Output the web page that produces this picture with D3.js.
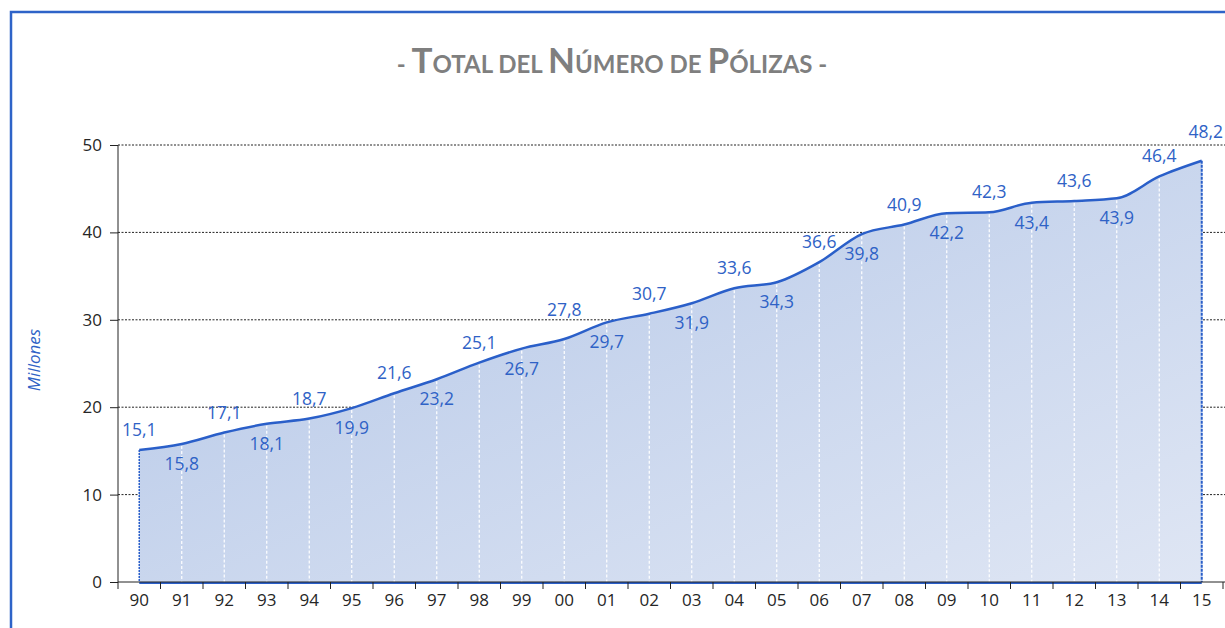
<!DOCTYPE html>
<html>
<head>
<meta charset="utf-8">
<script src="https://cdn.jsdelivr.net/npm/d3@7"></script>
<style>
  body { margin: 0; background: #fff; }
  svg { display: block; font-family: "Open Sans", "Noto Sans", sans-serif; }
</style>
</head>
<body>
<svg id="chart" width="1225" height="628"></svg>
<script>
const years = ['90','91','92','93','94','95','96','97','98','99','00','01','02','03','04','05','06','07','08','09','10','11','12','13','14','15']
const polizas = [15.1,15.8,17.1,18.1,18.7,19.9,21.6,23.2,25.1,26.7,27.8,29.7,30.7,31.9,33.6,34.3,36.6,39.8,40.9,42.2,42.3,43.4,43.6,43.9,46.4,48.2]
// label above (1) or below (-1) the point
const labelSide = [1,-1,1,-1,1,-1,1,-1,1,-1,1,-1,1,-1,1,-1,1,-1,1,-1,1,-1,1,-1,1,1]
// labels pushed a little higher to clear the gridline / edge
const raisedLabels = ['00', '15']
const yTicks = [0,10,20,30,40,50]

const blue = '#2a5fc9'
const svg = d3.select('#chart')
const width = 1225, height = 628
const margin = { left: 118, right: 2, top: 145, bottom: 46 }

// frame
svg.append('path')
  .attr('d', `M11,${height + 5} V12 H${width + 5}`)
  .attr('fill', 'none')
  .attr('stroke', '#2e63c8')
  .attr('stroke-width', 2.5)

// title
const title = svg.append('text')
  .attr('x', 612).attr('y', 73)
  .attr('text-anchor', 'middle')
  .attr('fill', '#7f7f7f')
  .attr('font-weight', 'bold')
  .attr('font-family', 'Lato, "Open Sans", sans-serif')
const parts = [['- ', 24], ['T', 35], ['OTAL DEL ', 24], ['N', 35], ['ÚMERO DE ', 24], ['P', 35], ['ÓLIZAS -', 24]]
parts.forEach(([t, s]) => title.append('tspan').attr('font-size', s).text(t))

const x = d3.scaleBand().domain(years).range([margin.left, width - margin.right])
const y = d3.scaleLinear().domain([0, 50]).range([height - margin.bottom, margin.top])
const cx = d => x(d) + x.bandwidth() / 2

// gridlines
svg.append('g')
  .selectAll('line')
  .data(yTicks.filter(d => d > 0))
  .join('line')
  .attr('x1', margin.left).attr('x2', width)
  .attr('y1', d => y(d)).attr('y2', d => y(d))
  .attr('stroke', '#222')
  .attr('stroke-width', 1)
  .attr('stroke-dasharray', '2,1.5')

// gradient fill
const defs = svg.append('defs')
const grad = defs.append('linearGradient')
  .attr('id', 'areaGrad')
  .attr('x1', 0).attr('y1', 0).attr('x2', 1).attr('y2', 1)
grad.append('stop').attr('offset', '0%').attr('stop-color', '#b3c6e7')
grad.append('stop').attr('offset', '100%').attr('stop-color', '#dfe6f4')

const pts = years.map((yr, i) => ({ yr, v: polizas[i], side: labelSide[i] }))

const area = d3.area()
  .x(d => cx(d.yr))
  .y0(y(0))
  .y1(d => y(d.v))
  .curve(d3.curveMonotoneX)
svg.append('path')
  .datum(pts)
  .attr('d', area)
  .attr('fill', 'url(#areaGrad)')

// drop lines
svg.append('g')
  .selectAll('line')
  .data(pts.slice(1, -1))
  .join('line')
  .attr('x1', d => cx(d.yr)).attr('x2', d => cx(d.yr))
  .attr('y1', d => y(d.v) + 2).attr('y2', y(0))
  .attr('stroke', '#fff')
  .attr('stroke-width', 1.2)
  .attr('stroke-dasharray', '3,2')

// area edges
const first = pts[0], last = pts[pts.length - 1]
svg.append('line')
  .attr('x1', cx(first.yr)).attr('x2', cx(first.yr))
  .attr('y1', y(first.v)).attr('y2', y(0))
  .attr('stroke', blue).attr('stroke-width', 1.5).attr('stroke-dasharray', '2,1')
svg.append('line')
  .attr('x1', cx(last.yr)).attr('x2', cx(last.yr))
  .attr('y1', y(last.v)).attr('y2', y(0))
  .attr('stroke', blue).attr('stroke-width', 2).attr('stroke-dasharray', '3,1')
svg.append('line')
  .attr('x1', cx(first.yr)).attr('x2', cx(last.yr))
  .attr('y1', y(0) + 1).attr('y2', y(0) + 1)
  .attr('stroke', blue).attr('stroke-width', 2)

// line
const line = d3.line()
  .x(d => cx(d.yr))
  .y(d => y(d.v))
  .curve(d3.curveMonotoneX)
svg.append('path')
  .datum(pts)
  .attr('d', line)
  .attr('fill', 'none')
  .attr('stroke', blue)
  .attr('stroke-width', 2.5)

// axes
const yAxis = svg.append('g')
  .attr('transform', `translate(${margin.left},0)`)
  .call(d3.axisLeft(y).tickValues(yTicks).tickSize(8).tickPadding(8))
yAxis.select('.domain').attr('d', `M0,${y(50)}V${y(0)}`).attr('stroke', '#222')
yAxis.selectAll('.tick line').attr('stroke', '#222')
yAxis.selectAll('text')
  .attr('font-size', 17)
  .attr('fill', '#262626')
  .attr('font-family', '"Open Sans", sans-serif')

const xAxis = svg.append('g')
  .attr('transform', `translate(0,${y(0)})`)
  .call(d3.axisBottom(x).tickSize(0).tickPadding(12))
xAxis.select('.domain').attr('d', `M${margin.left},0H${width}`).attr('stroke', '#222')
xAxis.selectAll('text')
  .attr('font-size', 17)
  .attr('fill', '#262626')
  .attr('font-family', '"Open Sans", sans-serif')
// boundary ticks between categories
xAxis.append('g')
  .selectAll('line')
  .data(years.concat(['end']))
  .join('line')
  .attr('x1', (d, i) => margin.left + i * x.step())
  .attr('x2', (d, i) => margin.left + i * x.step())
  .attr('y1', 0).attr('y2', 7)
  .attr('stroke', '#222')

// data labels
svg.append('g')
  .selectAll('text')
  .data(pts)
  .join('text')
  .attr('x', d => cx(d.yr) + (d.yr === '15' ? 4 : 0))
  .attr('y', d => {
    if (d.side < 0) return y(d.v) + 26
    return y(d.v) - (raisedLabels.includes(d.yr) ? 23 : 14)
  })
  .attr('text-anchor', 'middle')
  .attr('font-size', 17.5)
  .attr('fill', '#2f62c6')
  .text(d => d3.format('.1f')(d.v).replace('.', ','))

// y label
svg.append('text')
  .attr('transform', 'translate(40,360) rotate(-90)')
  .attr('text-anchor', 'middle')
  .attr('font-size', 17)
  .attr('font-style', 'italic')
  .attr('fill', '#2f62c6')
  .text('Millones')
</script>
</body>
</html>
